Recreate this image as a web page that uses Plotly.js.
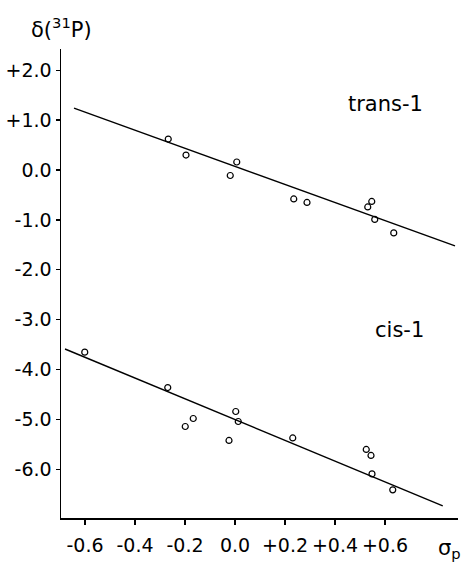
<!DOCTYPE html>
<html>
<head>
<meta charset="utf-8">
<script src="https://cdn.plot.ly/plotly-3.0.1.min.js"></script>
<style>html,body{margin:0;padding:0;background:#fff;}#chart{width:465px;height:567px;}</style>
</head>
<body>
<div id="chart"></div>
<script>
// trans-1 measured points (sigma_p, delta 31P)
const transX = [-0.267, -0.196, 0.007, -0.019, 0.235, 0.288, 0.547, 0.531, 0.559, 0.635];
const transY = [0.62, 0.30, 0.16, -0.11, -0.58, -0.65, -0.63, -0.74, -0.99, -1.26];
// cis-1 measured points
const cisX = [-0.601, -0.269, -0.199, -0.167, -0.024, 0.003, 0.013, 0.231, 0.525, 0.544, 0.548, 0.631];
const cisY = [-3.65, -4.36, -5.14, -4.98, -5.42, -4.84, -5.04, -5.37, -5.60, -5.72, -6.09, -6.41];
// regression lines (end points)
const transFitX = [-0.644, 0.88];
const transFitY = [1.24, -1.52];
const cisFitX = [-0.68, 0.831];
const cisFitY = [-3.587, -6.733];
// tick labels
const xTickVals = [-0.6, -0.4, -0.2, 0.0, 0.2, 0.4, 0.6];
const xTickText = ["-0.6", "-0.4", "-0.2", "0.0", "+0.2", "+0.4", "+0.6"];
const yTickVals = [2, 1, 0, -1, -2, -3, -4, -5, -6];
const yTickText = ["+2.0", "+1.0", "0.0", "-1.0", "-2.0", "-3.0", "-4.0", "-5.0", "-6.0"];

const font = "DejaVu Sans, Liberation Sans, sans-serif";
const lineStyle = {color: "#000", width: 1.4};
const markerStyle = {symbol: "circle-open", size: 6, color: "#000", line: {width: 1.2, color: "#000"}};

const traces = [
  {x: transFitX, y: transFitY, mode: "lines", line: lineStyle, hoverinfo: "skip"},
  {x: cisFitX, y: cisFitY, mode: "lines", line: lineStyle, hoverinfo: "skip"},
  {x: transX, y: transY, mode: "markers", marker: markerStyle},
  {x: cisX, y: cisY, mode: "markers", marker: markerStyle}
];

const layout = {
  width: 465, height: 567,
  margin: {l: 61, r: 7, t: 49, b: 49},
  paper_bgcolor: "#fff", plot_bgcolor: "#fff",
  showlegend: false,
  font: {family: font, color: "#000"},
  xaxis: {
    range: [-0.696, 0.892], showgrid: false, zeroline: false,
    showline: true, linecolor: "#000", linewidth: 1.5,
    ticks: "outside", ticklen: 5, tickwidth: 1.3, tickcolor: "#000",
    tickvals: xTickVals, ticktext: xTickText, ticklabelstandoff: 5,
    tickfont: {family: font, size: 19, color: "#000"}
  },
  yaxis: {
    range: [-6.974, 2.425], showgrid: false, zeroline: false,
    showline: true, linecolor: "#000", linewidth: 1.5,
    ticks: "outside", ticklen: 4, tickwidth: 1.3, tickcolor: "#000",
    tickvals: yTickVals, ticktext: yTickText,
    tickfont: {family: font, size: 19, color: "#000"}
  },
  annotations: [
    {text: "δ(<sup>31</sup>P)", xref: "paper", yref: "paper", x: 0.002, y: 1.0, yshift: 21,
     xanchor: "center", yanchor: "middle", showarrow: false, font: {family: font, size: 21, color: "#000"}},
    {text: "σ<sub>p</sub>", xref: "paper", yref: "paper", x: 0.978, y: 0, yshift: -31,
     xanchor: "center", yanchor: "middle", showarrow: false, font: {family: font, size: 21, color: "#000"}},
    {text: "trans-1", xref: "x", yref: "y", x: 0.6, y: 1.32,
     xanchor: "center", yanchor: "middle", showarrow: false, font: {family: font, size: 21, color: "#000"}},
    {text: "cis-1", xref: "x", yref: "y", x: 0.656, y: -3.2,
     xanchor: "center", yanchor: "middle", showarrow: false, font: {family: font, size: 21, color: "#000"}}
  ]
};

Plotly.newPlot("chart", traces, layout, {displayModeBar: false, staticPlot: true});
</script>
</body>
</html>
